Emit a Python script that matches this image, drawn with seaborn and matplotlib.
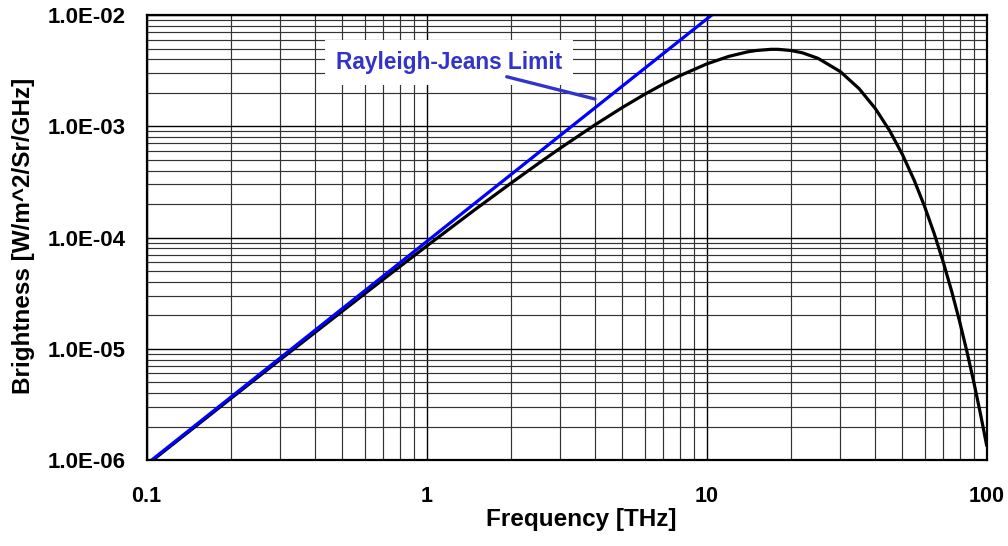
import matplotlib
matplotlib.use("Agg")
import matplotlib.pyplot as plt
import matplotlib.ticker as mticker
import numpy as np
import pandas as pd
import seaborn as sns

# ---- data ----
planck_freq = [0.1, 0.15, 0.2, 0.3, 0.5, 0.7, 1.0, 1.5, 2.0, 2.5, 3.0, 4.0, 5.0, 6.0,
               7.0, 8.0, 10.0, 12.0, 14.0, 15.0, 17.0, 18.0, 20.0, 22.0, 25.0, 30.0,
               35.0, 40.0, 45.0, 50.0, 55.0, 60.0, 65.0, 70.0, 75.0, 80.0, 85.0,
               90.0, 95.0, 100.0]
planck_val = [9.02e-7, 2.02e-6, 3.58e-6, 7.99e-6, 2.18e-5, 4.21e-5, 8.38e-5, 1.81e-4,
              3.08e-4, 4.61e-4, 6.36e-4, 1.034e-3, 1.476e-3, 1.936e-3, 2.397e-3,
              2.841e-3, 3.633e-3, 4.250e-3, 4.665e-3, 4.796e-3, 4.917e-3, 4.914e-3,
              4.798e-3, 4.567e-3, 4.075e-3, 3.100e-3, 2.180e-3, 1.444e-3, 9.13e-4,
              5.57e-4, 3.295e-4, 1.902e-4, 1.075e-4, 5.97e-5, 3.265e-5, 1.762e-5,
              9.40e-6, 4.96e-6, 2.59e-6, 1.345e-6]
rj_freq = [0.1, 1.0, 10.0, 11.0]
rj_val = [9.2e-7, 9.2e-5, 9.2e-3, 1.113e-2]

x_ticks = [0.1, 1, 10, 100]
y_ticks = [1e-6, 1e-5, 1e-4, 1e-3, 1e-2]
x_label = "Frequency [THz]"
y_label = "Brightness [W/m^2/Sr/GHz]"
annot_text = "Rayleigh-Jeans Limit"

# ---- styling ----
sns.set_theme(style="white")
plt.rcParams["font.family"] = ["Liberation Sans", "DejaVu Sans"]
plt.rcParams["font.weight"] = "bold"
plt.rcParams["text.color"] = "black"
plt.rcParams["axes.labelcolor"] = "black"
plt.rcParams["xtick.color"] = "black"
plt.rcParams["ytick.color"] = "black"
plt.rcParams["xtick.labelcolor"] = "black"
plt.rcParams["ytick.labelcolor"] = "black"

fig = plt.figure(figsize=(10.08, 5.46), dpi=100)
ax = fig.add_axes([0.1455, 0.1575, 0.8334, 0.815])
ax.set_xscale("log")
ax.set_yscale("log")

df_p = pd.DataFrame({"f": planck_freq, "b": planck_val})
df_r = pd.DataFrame({"f": rj_freq, "b": rj_val})
sns.lineplot(data=df_p, x="f", y="b", ax=ax, color="black", lw=2.3, zorder=3)
sns.lineplot(data=df_r, x="f", y="b", ax=ax, color="#0000FF", lw=2.3, zorder=4)

ax.set_xlim(0.1, 100)
ax.set_ylim(1e-6, 1e-2)

ax.xaxis.set_major_locator(mticker.FixedLocator(x_ticks))
ax.yaxis.set_major_locator(mticker.FixedLocator(y_ticks))
ax.xaxis.set_minor_locator(mticker.LogLocator(base=10, subs=np.arange(2, 10), numticks=20))
ax.yaxis.set_minor_locator(mticker.LogLocator(base=10, subs=np.arange(2, 10), numticks=20))
ax.xaxis.set_major_formatter(mticker.FuncFormatter(lambda v, p: f"{v:g}"))
ax.yaxis.set_major_formatter(mticker.FuncFormatter(lambda v, p: f"{v:.1E}"))
ax.xaxis.set_minor_formatter(mticker.NullFormatter())
ax.yaxis.set_minor_formatter(mticker.NullFormatter())

ax.grid(True, which="major", color="black", lw=1.0, zorder=1)
ax.grid(True, which="minor", color="#333333", lw=0.85, zorder=1)
ax.set_axisbelow(True)

ax.tick_params(axis="both", which="both", length=0, colors="black")
ax.tick_params(axis="x", which="major", pad=19, labelsize=15.5)
ax.tick_params(axis="y", which="major", pad=15, labelsize=16)
for lab in ax.get_xticklabels() + ax.get_yticklabels():
    lab.set_fontweight("bold")

for s in ax.spines.values():
    s.set_color("black")
    s.set_linewidth(1.6)
    s.set_zorder(6)

ax.set_xlabel(x_label, fontsize=17.5, fontweight="bold", color="black")
ax.set_ylabel(y_label, fontsize=17.5, fontweight="bold", color="black")
ax.xaxis.set_label_coords(0.517, -0.108)
ax.yaxis.set_label_coords(-0.133, 0.5045)

# annotation
ax.text(0.3598, 0.893, annot_text, transform=ax.transAxes, ha="center", va="center",
        fontsize=16.3, fontweight="bold", color="#3333CC", zorder=7,
        bbox=dict(boxstyle="square,pad=0.5", fc="white", ec="none"))
ax.annotate("", xy=(0.5337, 0.8112), xytext=(0.4286, 0.8613),
            xycoords="axes fraction", textcoords="axes fraction",
            arrowprops=dict(arrowstyle="-", color="#3333CC", lw=2.4,
                            shrinkA=0, shrinkB=0), zorder=8)

fig.savefig("out.png", dpi=100)
